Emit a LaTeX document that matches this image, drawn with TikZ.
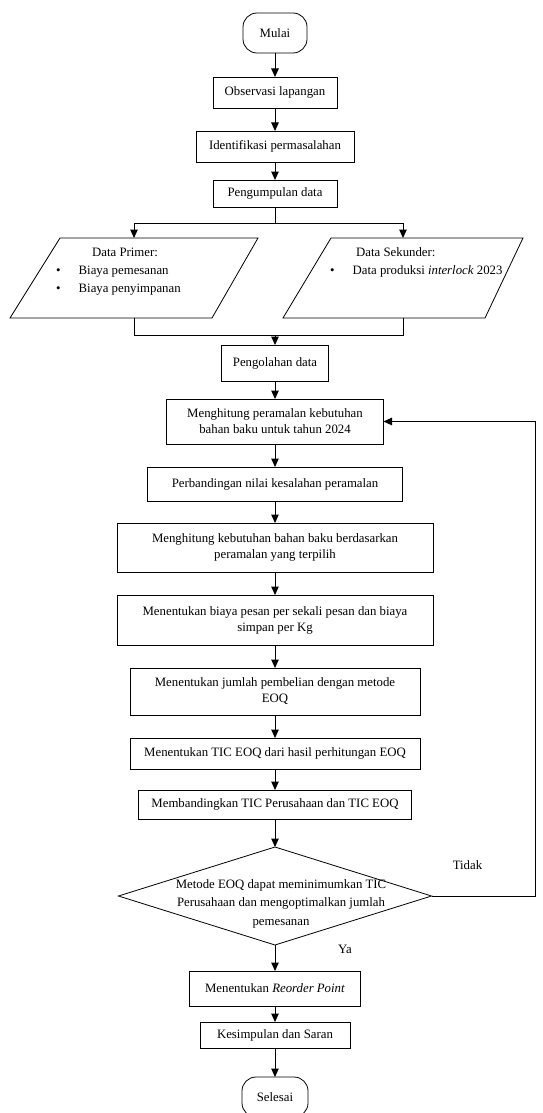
\documentclass[tikz,border=0pt]{standalone}
\usepackage{fontspec}
\setmainfont{Liberation Serif}
\usetikzlibrary{positioning, shapes.geometric, arrows.meta}

\begin{document}
\begin{tikzpicture}[x=1pt,y=1pt,font=\fontsize{12.8}{16}\selectfont,
    proc/.style={draw,line width=0.8pt,align=center,inner sep=2pt,outer sep=0pt},
    term/.style={draw,line width=0.8pt,rounded corners=14pt,outer sep=0pt,minimum width=64pt,minimum height=40pt},
    data/.style={minimum height=80pt,outer sep=0pt,inner sep=0pt},
    decision/.style={draw,line width=0.8pt,diamond,outer sep=0pt,minimum width=313pt,minimum height=98pt},
    flow/.style={line width=1pt,-{Triangle[length=8.5pt,width=7.5pt]}},
    line/.style={line width=1pt}]
    \useasboundingbox (0,0) rectangle (543,-1113);
    \node[term] (mulai) at (275,-33) {Mulai};
    \node[proc,minimum width=124pt,minimum height=31pt] (obs) [below=24pt of mulai] {Observasi lapangan};
    \node[proc,minimum width=158pt,minimum height=31pt] (ident) [below=23pt of obs] {Identifikasi permasalahan};
    \node[proc,minimum width=124pt,minimum height=27pt] (kumpul) [below=18pt of ident] {Pengumpulan data};
    \node[data,minimum width=248pt] (primer) at (134,-278) {};
    \node[data,minimum width=240pt] (sekunder) at (403,-278) {};
    \draw[line width=0.8pt] (primer.south west) -- ([xshift=-46pt]primer.south east) -- (primer.north east)
        -- ([xshift=50pt]primer.north west) -- cycle;
    \draw[line width=0.8pt] (sekunder.south west) -- ([xshift=-38pt]sekunder.south east) -- (sekunder.north east)
        -- ([xshift=48pt]sekunder.north west) -- cycle;
    \node[anchor=north west,inner sep=0pt,font=\fontsize{12.8}{18}\selectfont] (primerteks) at ([shift={(-78,34)}]primer.center)
        {\begin{tabular}{@{}l@{\hspace{18pt}}l@{}}
         \multicolumn{2}{@{}l}{\hspace{36pt}Data Primer:}\\
         \textbullet & Biaya pemesanan\\
         \textbullet & Biaya penyimpanan
         \end{tabular}};
    \node[anchor=north west,inner sep=0pt,font=\fontsize{12.8}{18}\selectfont] (sekunderteks) at ([shift={(-73,34)}]sekunder.center)
        {\begin{tabular}{@{}l@{\hspace{18pt}}l@{}}
         \multicolumn{2}{@{}l}{\hspace{26pt}Data Sekunder:}\\
         \textbullet & Data produksi \textit{interlock} 2023
         \end{tabular}};
    \node[proc,minimum width=107pt,minimum height=36pt] (olah) [below=138pt of kumpul] {Pengolahan data};
    \node[proc,minimum width=217pt,minimum height=45pt] (ramal) [below=18pt of olah] {Menghitung peramalan kebutuhan\\bahan baku untuk tahun 2024};
    \node[proc,minimum width=255pt,minimum height=34pt] (banding1) [below=23pt of ramal] {Perbandingan nilai kesalahan peramalan};
    \node[proc,minimum width=316pt,minimum height=49pt] (butuh) [below=22pt of banding1] {Menghitung kebutuhan bahan baku berdasarkan\\peramalan yang terpilih};
    \node[proc,minimum width=316pt,minimum height=50pt] (biaya) [below=23pt of butuh] {Menentukan biaya pesan per sekali pesan dan biaya\\simpan per Kg};
    \node[proc,minimum width=290pt,minimum height=47pt] (jumlah) [below=23pt of biaya] {Menentukan jumlah pembelian dengan metode\\EOQ};
    \node[proc,minimum width=290pt,minimum height=31pt] (tic) [below=23pt of jumlah] {Menentukan TIC EOQ dari hasil perhitungan EOQ};
    \node[proc,minimum width=273pt,minimum height=29pt] (banding2) [below=21pt of tic] {Membandingkan TIC Perusahaan dan TIC EOQ};
    \node[decision] (cek) [below=28pt of banding2] {};
    \node[align=center,inner sep=0pt,font=\fontsize{12.8}{18.5}\selectfont] (cekteks) at ([shift={(6,-7.5)}]cek.center)
        {Metode EOQ dapat meminimumkan TIC\\Perusahaan dan mengoptimalkan jumlah\\pemesanan};
    \node (tidak) at ([shift={(36,31)}]cek.east) {Tidak};
    \node (ya) at ([shift={(70,-4)}]cek.south) {Ya};
    \node[proc,minimum width=171pt,minimum height=35pt] (rop) [below=26pt of cek] {Menentukan \textit{Reorder Point}};
    \node[proc,minimum width=150pt,minimum height=26pt] (simpul) [below=16pt of rop] {Kesimpulan dan Saran};
    \node[term,minimum width=66pt] (selesai) [below=29pt of simpul] {Selesai};
    % alur utama
    \path[flow] (mulai) edge (obs);
    \path[flow] (obs) edge (ident);
    \path[flow] (ident) edge (kumpul);
    \draw[line] (kumpul.south) -- ++(0,-16) coordinate (cabang);
    \draw[flow] (cabang) -| (primer.north);
    \draw[flow] (cabang) -| (sekunder.north);
    \draw[line] (primer.south) -- ++(0,-17) coordinate (gabung) -| (sekunder.south);
    \draw[flow] (gabung -| olah.north) -- (olah.north);
    \path[flow] (olah) edge (ramal);
    \path[flow] (ramal) edge (banding1);
    \path[flow] (banding1) edge (butuh);
    \path[flow] (butuh) edge (biaya);
    \path[flow] (biaya) edge (jumlah);
    \path[flow] (jumlah) edge (tic);
    \path[flow] (tic) edge (banding2);
    \path[flow] (banding2) edge (cek);
    \path[flow] (cek) edge (rop);
    \path[flow] (rop) edge (simpul);
    \path[flow] (simpul) edge (selesai);
    % kembali ke peramalan
    \draw[flow] (cek.east) -- ++(104,0) |- (ramal.east);
\end{tikzpicture}
\end{document}
